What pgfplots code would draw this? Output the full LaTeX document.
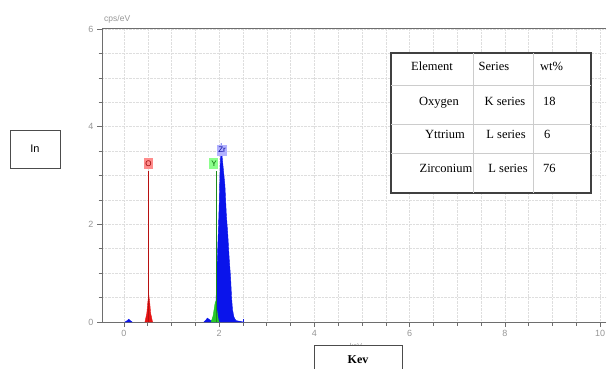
\documentclass[border=0pt]{standalone}
\usepackage{fontspec}
\setmainfont{Liberation Serif}
\newfontfamily\arialfont{Liberation Sans}
\usepackage{pgfplots}
\pgfplotsset{compat=1.18}
\definecolor{axgray}{RGB}{110,110,110}
\definecolor{tickgray}{RGB}{150,150,150}
\definecolor{gridgray}{RGB}{222,222,222}
\definecolor{specblue}{RGB}{10,20,235}
\definecolor{specred}{RGB}{230,20,20}
\definecolor{specgreen}{RGB}{40,200,40}
\begin{document}
\begin{tikzpicture}[x=1pt,y=1pt]
\path[use as bounding box] (0,0) rectangle (608,368);
\begin{axis}[
  at={(102pt,46pt)}, anchor=south west,
  scale only axis, width=504pt, height=294pt,
  xmin=-0.462, xmax=10.126, ymin=0, ymax=6.02,
  axis x line*=bottom, axis y line*=left,
  axis line style={axgray, line width=0.8pt},
  tick align=outside,
  xtick={0,2,4,6,8,10}, minor x tick num=3,
  ytick={0,2,4,6}, minor y tick num=3,
  major tick length=5pt, minor tick length=3.5pt,
  tick style={axgray, line width=0.6pt},
  grid=both,
  major grid style={gridgray, densely dotted, line width=0.5pt},
  minor grid style={gridgray, densely dotted, line width=0.5pt},
  /pgf/number format/assume math mode=true,
  ticklabel style={tickgray, font=\arialfont\fontsize{9}{10}\selectfont},
  clip=false,
]
% blue spectrum (Zr and background)
\addplot[draw=specblue, fill=specblue, line width=0.4pt] coordinates {
 (0.02,0) (0.07,0.03) (0.1,0.06) (0.13,0.03) (0.17,0)
} \closedcycle;
\addplot[draw=specblue, fill=specblue, line width=0.4pt] coordinates {
 (1.68,0) (1.72,0.04) (1.75,0.08) (1.78,0.06) (1.82,0.03) (1.86,0.04)
 (1.90,0.1) (1.93,0.3) (1.95,1.0) (1.98,1.8) (2.00,2.4) (2.02,3.2)
 (2.04,3.66) (2.06,3.4) (2.09,3.1) (2.12,2.8) (2.15,2.2) (2.18,1.8)
 (2.21,1.3) (2.24,0.9) (2.26,0.5) (2.28,0.25) (2.31,0.1) (2.35,0.03)
 (2.45,0.01) (2.5,0)
} \closedcycle;
\addplot[draw=specblue, line width=0.6pt] coordinates {(2.5,0) (2.5,0.06)};
% green Y peak
\addplot[draw=specgreen, fill=specgreen, line width=0.4pt] coordinates {
 (1.83,0) (1.87,0.12) (1.90,0.3) (1.92,0.42) (1.95,0.25) (1.98,0.05) (2.0,0)
} \closedcycle;
% red O peak
\addplot[draw=specred, fill=specred, line width=0.4pt] coordinates {
 (0.44,0) (0.48,0.18) (0.50,0.4) (0.52,0.56) (0.54,0.4) (0.56,0.18) (0.60,0)
} \closedcycle;
% element marker lines
\addplot[draw=specred!80!black, line width=0.5pt] coordinates {(0.515,0) (0.515,3.1)};
\addplot[draw=specgreen!70!black, line width=0.5pt] coordinates {(1.93,0) (1.93,3.1)};
% marker labels
\node[fill=red!45!white, text=red!60!black, inner sep=1.5pt, minimum width=9pt, minimum height=11pt,
      font=\arialfont\fontsize{8}{9}\selectfont] at (axis cs:0.515,3.25) {O};
\node[fill=green!45!white, text=green!40!black, inner sep=1.5pt, minimum width=9pt, minimum height=11pt,
      font=\arialfont\fontsize{8}{9}\selectfont] at (axis cs:1.89,3.25) {Y};
\node[fill=blue!30!white, text=blue!60!black, inner sep=1.2pt, minimum height=11pt,
      font=\arialfont\fontsize{8}{9}\selectfont] at (axis cs:2.06,3.52) {Zr};
% top border
\draw[axgray, line width=0.8pt] (rel axis cs:0,1) -- (rel axis cs:1,1);
\end{axis}
% unit label
\node[anchor=base west, text=tickgray, font=\arialfont\fontsize{8.5}{10}\selectfont, inner sep=0pt] at (104,347) {cps/eV};
% In box
\draw[black!70, line width=0.8pt] (10,200) rectangle (60,238);
\node[font=\arialfont\fontsize{11}{12}\selectfont] at (35,219) {In};
% Kev box
\node[text=tickgray, anchor=base, inner sep=0pt, font=\arialfont\fontsize{7}{8}\selectfont] at (356,19.5) {keV};
\draw[black!70, line width=0.8pt, fill=white] (314,-5) rectangle (402,23);
\node[font=\bfseries\fontsize{12}{13}\selectfont] at (358,8) {Kev};
% table
\draw[black!75, line width=1.3pt, fill=white] (391,175) rectangle (591,315);
\draw[black!20, line width=1pt] (473,175) -- (473,315);
\draw[black!20, line width=1pt] (533,175) -- (533,315);
\draw[black!20, line width=1pt] (391,283) -- (591,283);
\draw[black!20, line width=1pt] (391,244) -- (591,244);
\draw[black!20, line width=1pt] (391,215) -- (591,215);
\begin{scope}[every node/.style={font=\fontsize{12.5}{14}\selectfont, inner sep=0pt, anchor=base}]
\node at (432,298) {Element};
\node at (494,298) {Series};
\node[anchor=base west] at (540,298) {wt\%};
\node at (439,263) {Oxygen};
\node at (505,263) {K series};
\node[anchor=base west] at (543,263) {18};
\node at (445,230) {Yttrium};
\node at (506,230) {L series};
\node[anchor=base west] at (544,230) {6};
\node at (446,196) {Zirconium};
\node at (508,196) {L series};
\node[anchor=base west] at (543,196) {76};
\end{scope}
\end{tikzpicture}
\end{document}
